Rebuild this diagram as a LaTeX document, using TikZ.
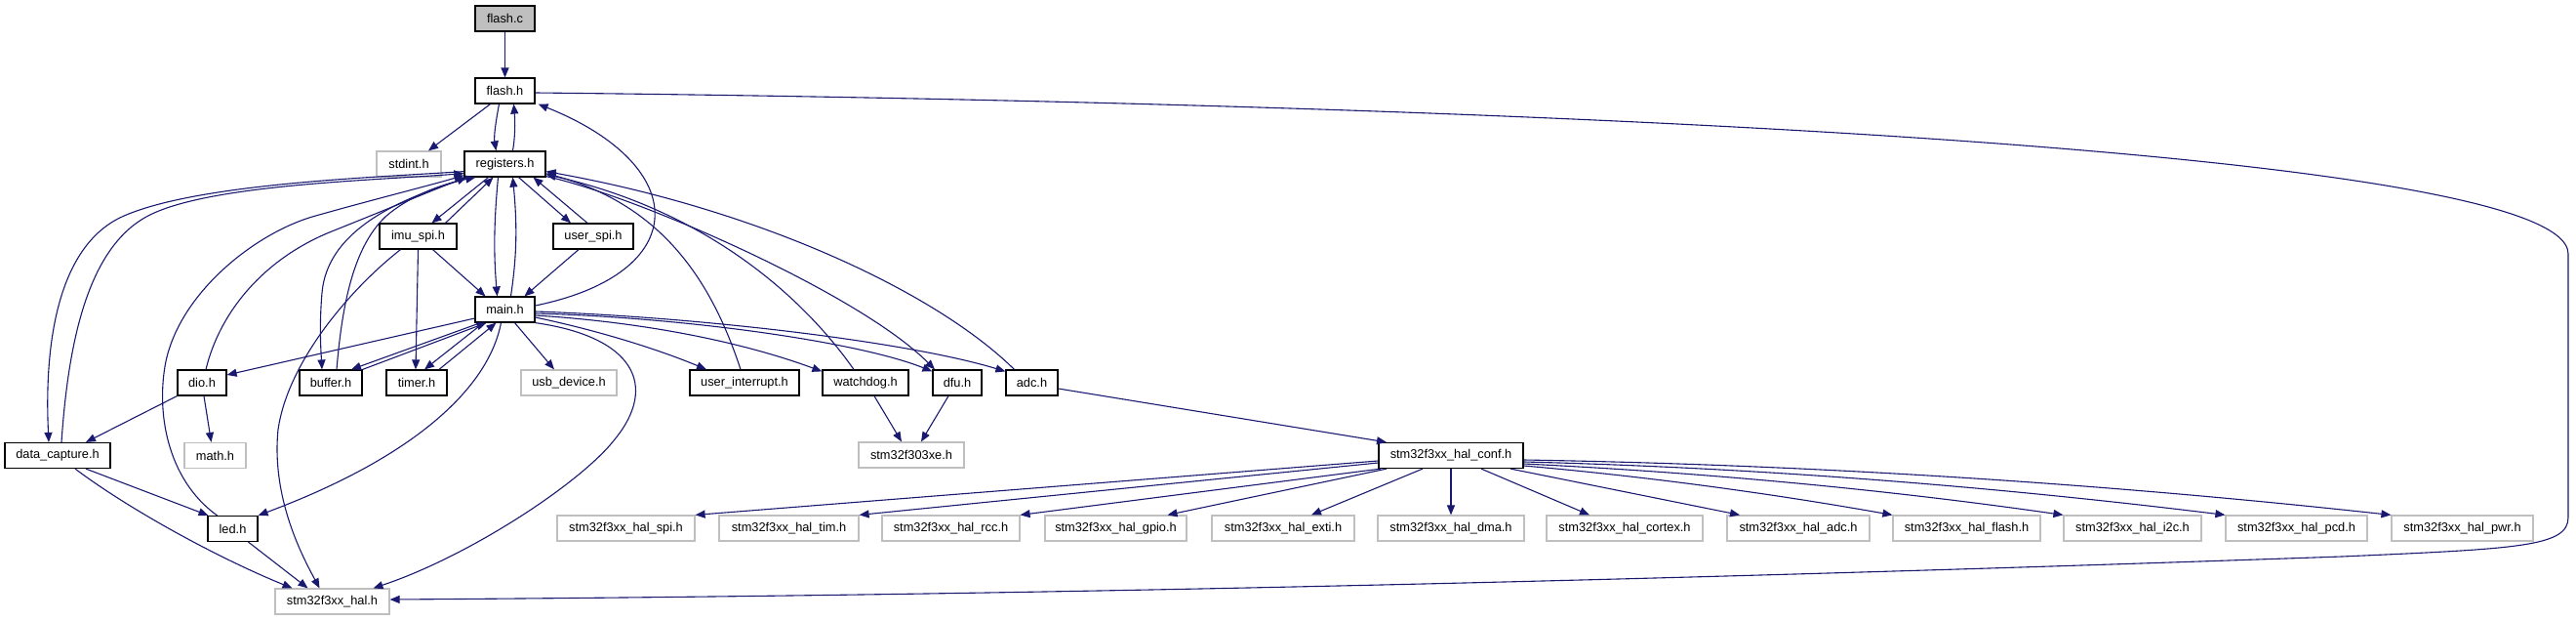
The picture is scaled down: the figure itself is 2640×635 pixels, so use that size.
\documentclass[tikz,border=0pt]{standalone}
\usepackage{fontspec}
\setmainfont{Liberation Sans}
\usetikzlibrary{arrows.meta}
\definecolor{edgec}{HTML}{191970}
\definecolor{grayb}{HTML}{BFBFBF}
\begin{document}
\begin{tikzpicture}[x=1pt,y=-1pt,
  box/.style={draw=black, line width=1.2pt, fill=white, minimum height=26pt, inner sep=0pt, font=\fontsize{12.8}{14}\selectfont},
  gbox/.style={box, draw=grayb},
  dep/.style={draw=edgec, line width=1.1pt, -{Triangle[length=10pt,width=8pt]}}]
\useasboundingbox (0,0) rectangle (2640,635);
% nodes
\node[box, fill=grayb, minimum width=61pt] (flashc) at (517.5,19) {flash.c};
\node[box, minimum width=61pt] (flashh) at (517.5,93) {flash.h};
\node[gbox, minimum width=66pt] (stdint) at (419,168) {stdint.h};
\node[box, minimum width=83pt] (registers) at (517.5,168) {registers.h};
\node[box, minimum width=79pt] (imuspi) at (428.5,242) {imu\_spi.h};
\node[box, minimum width=82pt] (userspi) at (608,242) {user\_spi.h};
\node[box, minimum width=61pt] (mainh) at (517.5,317) {main.h};
\node[box, minimum width=50pt] (dio) at (207,392) {dio.h};
\node[box, minimum width=64pt] (buffer) at (339,392) {buffer.h};
\node[box, minimum width=62pt] (timer) at (427,392) {timer.h};
\node[gbox, minimum width=98pt] (usb) at (583,392) {usb\_device.h};
\node[box, minimum width=112pt] (userint) at (763,392) {user\_interrupt.h};
\node[box, minimum width=88pt] (watchdog) at (887,392) {watchdog.h};
\node[box, minimum width=50pt] (dfu) at (981,392) {dfu.h};
\node[box, minimum width=53pt] (adc) at (1057.5,392) {adc.h};
\node[box, minimum width=108pt] (datacap) at (59,466.5) {data\_capture.h};
\node[gbox, minimum width=63pt] (math) at (220.5,466.5) {math.h};
\node[gbox, minimum width=108pt] (fxe) at (934,466) {stm32f303xe.h};
\node[box, minimum width=148pt] (halconf) at (1487,466.5) {stm32f3xx\_hal\_conf.h};
\node[box, minimum width=51pt] (led) at (238.5,541.5) {led.h};
\node[gbox, minimum width=141pt] (hspi) at (641.5,541) {stm32f3xx\_hal\_spi.h};
\node[gbox, minimum width=143pt] (htim) at (808.5,541) {stm32f3xx\_hal\_tim.h};
\node[gbox, minimum width=141pt] (hrcc) at (974.5,541) {stm32f3xx\_hal\_rcc.h};
\node[gbox, minimum width=145pt] (hgpio) at (1143.5,541) {stm32f3xx\_hal\_gpio.h};
\node[gbox, minimum width=146pt] (hexti) at (1315,541) {stm32f3xx\_hal\_exti.h};
\node[gbox, minimum width=150pt] (hdma) at (1487,541) {stm32f3xx\_hal\_dma.h};
\node[gbox, minimum width=160pt] (hcortex) at (1665,541) {stm32f3xx\_hal\_cortex.h};
\node[gbox, minimum width=146pt] (hadc) at (1843,541) {stm32f3xx\_hal\_adc.h};
\node[gbox, minimum width=151pt] (hflash) at (2015.5,541) {stm32f3xx\_hal\_flash.h};
\node[gbox, minimum width=141pt] (hi2c) at (2185.5,541) {stm32f3xx\_hal\_i2c.h};
\node[gbox, minimum width=145pt] (hpcd) at (2353.5,541) {stm32f3xx\_hal\_pcd.h};
\node[gbox, minimum width=145pt] (hpwr) at (2523.5,541) {stm32f3xx\_hal\_pwr.h};
\node[gbox, minimum width=117pt] (hal) at (340.5,616) {stm32f3xx\_hal.h};
% edges: top
\draw[dep] (flashc) -- (flashh);
\draw[dep] ([xshift=-15pt]flashh.south) -- ([xshift=20pt]stdint.north);
\draw[dep] ([xshift=-6pt]flashh.south) .. controls (508,125) and (506,140) .. ([xshift=-9pt]registers.north);
\draw[dep] ([xshift=8pt]registers.north) .. controls (528,140) and (528,125) .. ([xshift=9pt]flashh.south);
\draw[dep] ([yshift=-2pt]flashh.east) .. controls (1500,105) and (2632,150) .. (2632,260) -- (2632,530) .. controls (2632,560) and (2580,562) .. (2400,570) .. controls (1600,598) and (1000,610) .. ([yshift=2pt]hal.east);
% registers <-> imu_spi, user_spi, main
\draw[dep] ([xshift=-17pt]registers.south) -- ([xshift=14pt]imuspi.north);
\draw[dep] ([xshift=28pt]imuspi.north) -- ([xshift=-12pt]registers.south);
\draw[dep] ([xshift=14pt]registers.south) -- ([xshift=-23pt]userspi.north);
\draw[dep] ([xshift=-6pt]userspi.north) -- ([xshift=29pt]registers.south);
\draw[dep] ([xshift=-7pt]registers.south) .. controls (506,230) and (506,260) .. ([xshift=-8pt]mainh.north);
\draw[dep] ([xshift=6pt]mainh.north) .. controls (530,260) and (530,230) .. ([xshift=8pt]registers.south);
\draw[dep] ([xshift=15pt]imuspi.south) -- ([xshift=-20pt]mainh.north);
\draw[dep] ([xshift=-15pt]userspi.south) -- ([xshift=20pt]mainh.north);
\draw[dep] (imuspi.south) -- ([xshift=-1pt]timer.north);
\draw[dep] ([xshift=-18pt]imuspi.south) .. controls (360,295) and (295,370) .. (285,440) .. controls (278,510) and (310,570) .. ([xshift=-13pt]hal.north);
% main.h outgoing
\draw[dep] ([yshift=4pt]mainh.east) .. controls (710,280) and (710,170) .. ([xshift=3pt]flashh.south east);
\draw[dep] ([yshift=-9pt]mainh.west) -- ([yshift=8pt]dio.east);
\draw[dep] ([xshift=-25pt]mainh.south) -- ([xshift=21pt]buffer.north);
\draw[dep] (buffer.north east) -- ([xshift=-19pt]mainh.south);
\draw[dep] ([xshift=-22pt]mainh.south) -- ([xshift=8pt]timer.north);
\draw[dep] ([xshift=23pt]timer.north) -- ([xshift=-9pt]mainh.south);
\draw[dep] ([xshift=10pt]mainh.south) -- ([xshift=-15pt]usb.north);
\draw[dep] ([yshift=-8pt]mainh.east) .. controls (620,340) and (680,360) .. ([xshift=-39pt]userint.north);
\draw[dep] ([yshift=-6pt]mainh.east) .. controls (660,330) and (760,350) .. ([yshift=-2pt]watchdog.north west);
\draw[dep] ([yshift=-4pt]mainh.east) .. controls (700,325) and (880,350) .. ([yshift=-2pt]dfu.north west);
\draw[dep] ([yshift=-2pt]mainh.east) .. controls (720,325) and (930,350) .. ([yshift=-2pt]adc.north west);
\draw[dep] ([xshift=-4pt]mainh.south) .. controls (500,400) and (420,470) .. (led.north east);
\draw[dep] (mainh.south east) .. controls (650,345) and (675,395) .. (630,450) .. controls (595,495) and (480,570) .. ([xshift=42pt]hal.north);
% right side back to registers
\draw[dep] ([xshift=-4pt]userint.north) .. controls (730,290) and (680,210) .. ([yshift=4pt]registers.south east);
\draw[dep] ([xshift=-12pt]watchdog.north) .. controls (820,300) and (720,215) .. ([yshift=3pt]registers.south east);
\draw[dep] ([yshift=1pt]registers.south east) .. controls (650,200) and (880,300) .. ([xshift=-23pt]dfu.north);
\draw[dep] ([xshift=-18pt]adc.north) .. controls (960,300) and (780,215) .. ([yshift=6pt]registers.south east);
\draw[dep] ([xshift=9pt]watchdog.south) -- ([xshift=-10pt]fxe.north);
\draw[dep] ([xshift=-9pt]dfu.south) -- ([xshift=10pt]fxe.north);
\draw[dep] ([yshift=-6pt]adc.east) -- ([xshift=-66pt]halconf.north);
% hal_conf fan-out
\draw[dep] ([yshift=-5.5pt]halconf.west) -- (hspi.north east);
\draw[dep] ([yshift=-7.5pt]halconf.west) -- (htim.north east);
\draw[dep] ([xshift=-72pt]halconf.south) -- (hrcc.north east);
\draw[dep] ([xshift=-66pt]halconf.south) -- ([xshift=53pt]hgpio.north);
\draw[dep] ([xshift=-29pt]halconf.south) -- ([xshift=29pt]hexti.north);
\draw[dep] (halconf.south) -- (hdma.north);
\draw[dep] ([xshift=31pt]halconf.south) -- ([xshift=-36pt]hcortex.north);
\draw[dep] ([xshift=61pt]halconf.south) -- ([xshift=-60pt]hadc.north);
\draw[dep] ([yshift=-10.5pt]halconf.east) .. controls (1687,488) and (1813,505) .. (hflash.north west);
\draw[dep] ([yshift=-8.5pt]halconf.east) .. controls (1746,484) and (1930,501) .. (hi2c.north west);
\draw[dep] ([yshift=-6.5pt]halconf.east) .. controls (1801,479) and (2041,498) .. (hpcd.north west);
\draw[dep] ([yshift=-4.5pt]halconf.east) .. controls (1858,476) and (2154,495) .. (hpwr.north west);
% left side
\draw[dep] (dio.south west) -- ([xshift=29pt]datacap.north);
\draw[dep] ([xshift=2pt]dio.south) -- ([xshift=-4pt]math.north);
\draw[dep] ([xshift=29pt]datacap.south) -- ([xshift=-25pt]led.north);
\draw[dep] ([xshift=18pt]datacap.south) .. controls (130,520) and (220,570) .. ([xshift=-41pt]hal.north);
\draw[dep] ([xshift=16pt]led.south) -- ([xshift=-25pt]hal.north);
\draw[dep] ([xshift=-16pt]led.north) .. controls (170,490) and (160,420) .. (170,370) .. controls (185,300) and (260,240) .. (320,222) .. controls (380,205) and (440,190) .. ([yshift=2pt]registers.south west);
\draw[dep] ([xshift=4pt]dio.north) .. controls (225,320) and (270,265) .. (340,237) .. controls (400,213) and (450,192) .. ([xshift=3pt]registers.south west);
\draw[dep] ([xshift=4pt]datacap.north) .. controls (70,350) and (90,255) .. (150,222) .. controls (210,189) and (380,185) .. ([yshift=4pt]registers.south west);
\draw[dep] ([yshift=6pt]registers.south west) .. controls (380,182) and (200,188) .. (125,222) .. controls (60,252) and (45,350) .. ([xshift=-9pt]datacap.north);
\draw[dep] ([xshift=7pt]registers.south west) .. controls (400,205) and (335,240) .. (330,300) .. controls (327,335) and (329,360) .. ([xshift=-9pt]buffer.north);
\draw[dep] ([xshift=6pt]buffer.north) .. controls (350,320) and (360,255) .. (395,222) .. controls (420,200) and (455,188) .. ([xshift=12pt]registers.south west);
\end{tikzpicture}
\end{document}
